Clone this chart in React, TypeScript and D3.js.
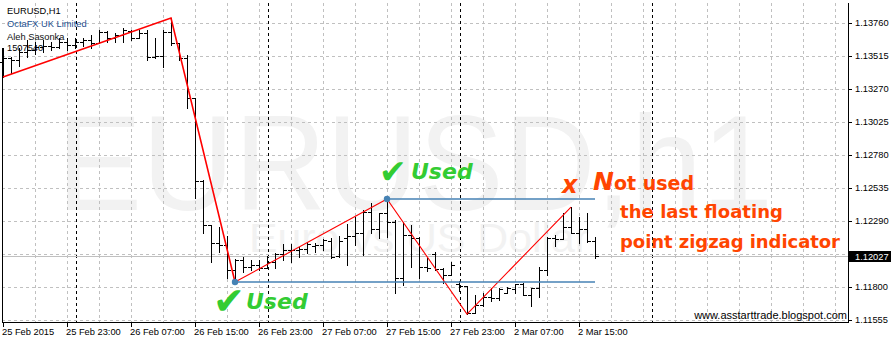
import React, { useEffect } from 'react';
import * as d3 from 'd3';

const W = 891;
const H = 343;

// H1 bars, 25 Feb 2015 15:00 .. 2 Mar 2015 17:00
const OPEN = [
  1.13468, 1.13498, 1.13483, 1.13543, 1.13558, 1.13580, 1.13587, 1.13580, 1.13617, 1.13595,
  1.13617, 1.13632, 1.13609, 1.13691, 1.13646, 1.13669, 1.13698, 1.13646, 1.13684, 1.13506,
  1.13513, 1.13691, 1.13609, 1.13498, 1.13202, 1.12586, 1.12260, 1.12126, 1.12111, 1.11926,
  1.12000, 1.11948, 1.11963, 1.11941, 1.11985, 1.12044, 1.12074, 1.12074, 1.12082, 1.12104,
  1.12111, 1.12141, 1.12030, 1.12163, 1.12178, 1.12200, 1.12356, 1.12230, 1.12349, 1.12282,
  1.11866, 1.12185, 1.12163, 1.11948, 1.12044, 1.11933, 1.11889, 1.11822, 1.11807, 1.11607,
  1.11666, 1.11725, 1.11718, 1.11755, 1.11785, 1.11822, 1.11740, 1.11792, 1.11926, 1.12163,
  1.12156, 1.12245, 1.12200, 1.12230, 1.12141,
];
const HIGH = [
  1.13572, 1.13506, 1.13572, 1.13632, 1.13617, 1.13632, 1.13617, 1.13646, 1.13646, 1.13646,
  1.13646, 1.13669, 1.13706, 1.13698, 1.13684, 1.13721, 1.13706, 1.13706, 1.13706, 1.13646,
  1.13706, 1.13795, 1.13609, 1.13521, 1.13202, 1.12593, 1.12260, 1.12245, 1.12178, 1.12007,
  1.12022, 1.12000, 1.12000, 1.12030, 1.12052, 1.12119, 1.12119, 1.12096, 1.12133, 1.12126,
  1.12156, 1.12163, 1.12178, 1.12267, 1.12319, 1.12371, 1.12423, 1.12349, 1.12452, 1.12297,
  1.12282, 1.12260, 1.12171, 1.12015, 1.12059, 1.11941, 1.11985, 1.11844, 1.11807, 1.11740,
  1.11755, 1.11792, 1.11792, 1.11800, 1.11822, 1.11830, 1.11792, 1.11948, 1.12171, 1.12185,
  1.12349, 1.12393, 1.12319, 1.12349, 1.12171,
];
const LOW = [
  1.13357, 1.13387, 1.13439, 1.13506, 1.13528, 1.13543, 1.13558, 1.13572, 1.13558, 1.13572,
  1.13587, 1.13572, 1.13609, 1.13617, 1.13617, 1.13617, 1.13632, 1.13646, 1.13483, 1.13498,
  1.13431, 1.13595, 1.13483, 1.13127, 1.12460, 1.12200, 1.11985, 1.12059, 1.11866, 1.11837,
  1.11911, 1.11926, 1.11926, 1.11941, 1.11941, 1.12000, 1.11985, 1.12022, 1.12052, 1.12059,
  1.12074, 1.12015, 1.12022, 1.11963, 1.12111, 1.12037, 1.12200, 1.12163, 1.12171, 1.11755,
  1.11815, 1.11948, 1.11866, 1.11918, 1.11926, 1.11830, 1.11889, 1.11770, 1.11599, 1.11607,
  1.11659, 1.11696, 1.11703, 1.11755, 1.11755, 1.11740, 1.11659, 1.11725, 1.11889, 1.12104,
  1.12156, 1.12200, 1.12126, 1.12133, 1.12015,
];
const CLOSE = [
  1.13498, 1.13483, 1.13543, 1.13558, 1.13580, 1.13587, 1.13580, 1.13617, 1.13595, 1.13617,
  1.13632, 1.13609, 1.13691, 1.13646, 1.13669, 1.13706, 1.13646, 1.13684, 1.13506, 1.13513,
  1.13691, 1.13609, 1.13498, 1.13202, 1.12586, 1.12260, 1.12126, 1.12111, 1.11926, 1.12000,
  1.11948, 1.11963, 1.11941, 1.11985, 1.12044, 1.12074, 1.12074, 1.12082, 1.12119, 1.12111,
  1.12148, 1.12022, 1.12141, 1.12178, 1.12200, 1.12356, 1.12230, 1.12349, 1.12282, 1.11866,
  1.12185, 1.12163, 1.11948, 1.11941, 1.11933, 1.11889, 1.11963, 1.11807, 1.11607, 1.11666,
  1.11725, 1.11718, 1.11785, 1.11792, 1.11822, 1.11740, 1.11792, 1.11926, 1.12163, 1.12156,
  1.12245, 1.12200, 1.12230, 1.12141, 1.12027,
];

const TIME_LABELS = [
  '25 Feb 2015', '25 Feb 23:00', '26 Feb 07:00', '26 Feb 15:00', '26 Feb 23:00',
  '27 Feb 07:00', '27 Feb 15:00', '27 Feb 23:00', '2 Mar 07:00', '2 Mar 15:00',
];
const TIME_LABEL_BARS = [0, 8, 16, 24, 32, 40, 48, 56, 64, 72];
const PRICE_TICKS = [1.1376, 1.13515, 1.1327, 1.13025, 1.1278, 1.12535, 1.1229, 1.12045, 1.118, 1.11555];
const DAY_SEPARATOR_BARS = [9, 33, 57, 81];

const ZZ_BARS = [0, 21, 29, 48, 58, 71];
const ZZ_PRICES = [1.13357, 1.13795, 1.11837, 1.12452, 1.11599, 1.12393];

const LEVEL_BARS = [29, 48];
const LEVEL_PRICES = [1.11837, 1.12452];
const LAST_BAR = 74;
const BID = 1.12027;

const AXIS_FONT = "'Liberation Sans', Arial, sans-serif";

export default function App() {
  useEffect(() => {
    document.body.style.margin = '0';
  }, []);

  const x = d3.scaleLinear().domain([0, 105]).range([3, 843]);
  const y = d3.scaleLinear().domain([1.11555, 1.1376]).range([320, 22.7]);

  const left = 2;
  const right = 848;
  const top = 3;
  const bottom = 322;
  const crisp = (v: number) => Math.round(v) + 0.5;

  const gridX = d3.range(4, 105, 4).map((i) => crisp(x(i)));

  const barPaths = OPEN.map((o, i) => {
    const xi = Math.round(x(i));
    const yh = Math.round(y(HIGH[i]));
    const yl = Math.round(y(LOW[i])) + 1;
    const yo = crisp(y(o));
    const yc = crisp(y(CLOSE[i]));
    return `M${xi + 0.5},${yh}V${yl}M${xi - 3},${yo}H${xi}M${xi + 1},${yc}H${xi + 4}`;
  });

  const line = d3
    .line<number>()
    .x((d) => x(ZZ_BARS[d]))
    .y((d) => y(ZZ_PRICES[d]));

  return (
    <svg
      width={W}
      height={H}
      viewBox={`0 0 ${W} ${H}`}
      style={{ position: 'absolute', left: 0, top: 0, background: '#fff', display: 'block' }}
    >
      <rect x={0} y={0} width={W} height={H} fill="#ffffff" />

      {/* watermark */}
      <text
        x={57}
        y={210}
        fontFamily={AXIS_FONT}
        fontSize={135}
        fill="#f2f2f2"
        textLength={716}
        lengthAdjust="spacingAndGlyphs"
      >
        EURUSD,h1
      </text>
      <text
        x={249}
        y={252}
        fontFamily={AXIS_FONT}
        fontSize={41}
        fill="#f2f2f2"
        textLength={340}
        lengthAdjust="spacingAndGlyphs"
      >
        Euro vs US Dollar
      </text>

      {/* grid */}
      <g stroke="#c0c0c0" strokeWidth={1} strokeDasharray="3,3" shapeRendering="crispEdges">
        {PRICE_TICKS.map((p) => (
          <line key={'h' + p} x1={left} x2={right} y1={crisp(y(p))} y2={crisp(y(p))} />
        ))}
        {gridX.map((gx) => (
          <line key={'v' + gx} x1={gx} x2={gx} y1={top} y2={bottom} />
        ))}
      </g>

      {/* day separators */}
      <g stroke="#000" strokeWidth={1} strokeDasharray="3,3" shapeRendering="crispEdges">
        {DAY_SEPARATOR_BARS.map((b) => (
          <line key={'s' + b} x1={crisp(x(b)) + 1} x2={crisp(x(b)) + 1} y1={top} y2={bottom} />
        ))}
      </g>

      {/* bid line */}
      <line
        x1={left}
        x2={right}
        y1={crisp(y(BID))}
        y2={crisp(y(BID))}
        stroke="#c0c0c0"
        strokeWidth={1}
        shapeRendering="crispEdges"
      />

      {/* header text */}
      <g fontFamily={AXIS_FONT} fontSize={9.3}>
        <text x={7} y={14} fill="#000">EURUSD,H1</text>
        <text x={7} y={27} fill="#1d4f8f">OctaFX UK Limited</text>
        <text x={7} y={39.5} fill="#111">Aleh Sasonka</text>
        <text x={7} y={50.5} fill="#000">1507540</text>
      </g>

      {/* bars */}
      <g stroke="#000" strokeWidth={1} fill="none" shapeRendering="crispEdges">
        {barPaths.map((d, i) => (
          <path key={'b' + i} d={d} />
        ))}
      </g>

      {/* zigzag */}
      <path d={line([0, 1, 2]) || ''} stroke="#ff0000" strokeWidth={1.6} fill="none" />
      <path d={line([2, 3, 4, 5]) || ''} stroke="#ff0000" strokeWidth={1.1} fill="none" />

      {/* levels */}
      {LEVEL_BARS.map((b, i) => (
        <g key={'l' + b}>
          <line
            x1={x(b)}
            x2={x(LAST_BAR)}
            y1={y(LEVEL_PRICES[i])}
            y2={y(LEVEL_PRICES[i])}
            stroke="#4682b4"
            strokeWidth={1.5}
          />
          <circle cx={x(b)} cy={y(LEVEL_PRICES[i])} r={3.2} fill="#4682b4" />
        </g>
      ))}

      {/* annotations */}
      <g fontFamily="'DejaVu Sans', sans-serif" fontWeight="bold" fill="#33cc33">
        <text>
          <tspan x={379} y={183} fontSize={33}>✔</tspan>
          <tspan x={411} y={179} fontSize={22} fontStyle="italic">Used</tspan>
        </text>
        <text>
          <tspan x={213} y={314} fontSize={38}>✔</tspan>
          <tspan x={246} y={309} fontSize={22} fontStyle="italic">Used</tspan>
        </text>
      </g>
      <g fontFamily="'DejaVu Sans', sans-serif" fontWeight="bold" fill="#ff4500">
        <text>
          <tspan x={562} y={193} fontSize={24} fontStyle="italic">x</tspan>
          <tspan x={593} y={190} fontSize={25} fontStyle="italic">N</tspan>
          <tspan fontSize={19}>ot used</tspan>
        </text>
        <text x={620} y={218} fontSize={18} textLength={163}>the last floating</text>
        <text x={620} y={248} fontSize={18} textLength={220}>point zigzag indicator</text>
      </g>

      <text x={847} y={319} textAnchor="end" fontFamily={AXIS_FONT} fontSize={11} fill="#000">
        www.asstarttrade.blogspot.com
      </text>

      {/* frame / axes */}
      <g stroke="#000" strokeWidth={1} shapeRendering="crispEdges">
        <line x1={right + 0.5} x2={right + 0.5} y1={top} y2={bottom + 1} />
        <line x1={left} x2={right + 1} y1={bottom + 0.5} y2={bottom + 0.5} />
        <line x1={left + 0.5} x2={left + 0.5} y1={48} y2={bottom + 1} />
        {PRICE_TICKS.map((p) => (
          <line key={'pt' + p} x1={right} x2={right + 4} y1={crisp(y(p))} y2={crisp(y(p))} />
        ))}
        {TIME_LABEL_BARS.map((b) => (
          <line key={'tt' + b} x1={crisp(x(b))} x2={crisp(x(b))} y1={bottom} y2={bottom + 5} />
        ))}
      </g>

      <g fontFamily={AXIS_FONT} fontSize={9.3} fill="#000">
        {PRICE_TICKS.map((p) =>
          Math.abs(p - BID) < 0.0005 ? null : (
            <text key={'pl' + p} x={855} y={y(p) + 3.4}>
              {p.toFixed(5)}
            </text>
          )
        )}
        {TIME_LABELS.map((t, i) => (
          <text key={'tl' + t} x={x(TIME_LABEL_BARS[i]) - 1} y={335}>
            {t}
          </text>
        ))}
      </g>

      {/* current price label */}
      <rect x={849} y={251} width={42} height={11} fill="#000" />
      <text x={855} y={y(BID) + 3.4} fontFamily={AXIS_FONT} fontSize={9.3} fill="#fff">
        {BID.toFixed(5)}
      </text>
    </svg>
  );
}
